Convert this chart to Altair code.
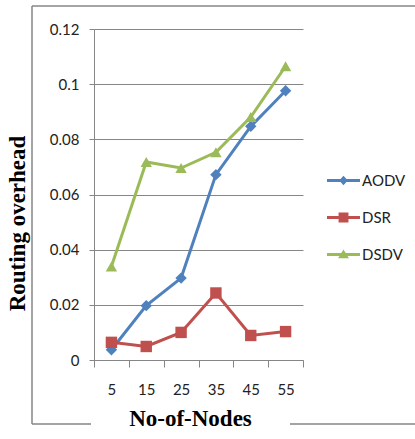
import altair as alt
import pandas as pd

# Routing overhead per protocol as the number of nodes grows
nodes = ["5", "15", "25", "35", "45", "55"]
protocols = ["AODV", "DSR", "DSDV"]
aodv = [0.0037, 0.0197, 0.0297, 0.0672, 0.0847, 0.0976]
dsr = [0.0064, 0.0049, 0.0100, 0.0243, 0.0089, 0.0103]
dsdv = [0.0339, 0.0718, 0.0696, 0.0753, 0.0881, 0.1065]
y_ticks = [0, 0.02, 0.04, 0.06, 0.08, 0.10, 0.12]

colors = ["#4F81BD", "#C0504D", "#9BBB59"]
marker_shapes = ["diamond", "square", "triangle-up"]
# legend glyphs: a short line segment with the series marker on it
bar = "M-1,-0.09L1,-0.09L1,0.09L-1,0.09Z "
legend_shapes = [
    bar + "M-0.26,0L0,-0.29L0.26,0L0,0.29Z",
    bar + "M-0.3,-0.3L0.3,-0.3L0.3,0.3L-0.3,0.3Z",
    bar + "M0,-0.3L0.33,0.22L-0.33,0.22Z",
]

rows = []
for name, vals in zip(protocols, [aodv, dsr, dsdv]):
    for n, v in zip(nodes, vals):
        rows.append({"nodes": n, "overhead": v, "protocol": name})
df = pd.DataFrame(rows)

axis_font = "Lato"
title_font = "Liberation Serif"
gray = "#868686"

x_enc = alt.X(
    "nodes:N",
    sort=nodes,
    scale=alt.Scale(paddingInner=0, paddingOuter=0),
    axis=alt.Axis(
        title="No-of-Nodes",
        labelAngle=0,
        tickBand="extent",
        tickSize=7,
        labelPadding=15,
        titlePadding=10,
        titleX=96,
        titleAlign="center",
        grid=False,
    ),
)
y_enc = alt.Y(
    "overhead:Q",
    scale=alt.Scale(domain=[0, 0.12], nice=False),
    axis=alt.Axis(
        title="Routing overhead",
        values=y_ticks,
        format=".2~f",
        tickSize=5,
        labelPadding=10,
        titleX=-77,
        titleY=194,
        titleAlign="center",
        titleBaseline="middle",
    ),
)
color_scale = alt.Scale(domain=protocols, range=colors)

lines = alt.Chart(df).mark_line(strokeWidth=3).encode(
    x=x_enc, y=y_enc,
    color=alt.Color("protocol:N", scale=color_scale, legend=None),
)

points = alt.Chart(df).mark_point(filled=True, opacity=1).encode(
    x=x_enc, y=y_enc,
    color=alt.Color("protocol:N", scale=color_scale, legend=None),
    shape=alt.Shape("protocol:N", scale=alt.Scale(domain=protocols, range=marker_shapes), legend=None),
    size=alt.value(130),
)

legend_layer = alt.Chart(df).mark_point(filled=True, opacity=0).encode(
    x=x_enc, y=y_enc,
    color=alt.Color("protocol:N", scale=color_scale, legend=alt.Legend(title=None, symbolOpacity=1)),
    shape=alt.Shape("protocol:N", scale=alt.Scale(domain=protocols, range=legend_shapes),
                    legend=alt.Legend(title=None, symbolOpacity=1)),
)

# outer frame around the figure, open at the x-axis title
frame_df = pd.DataFrame({"k": [0]})
frame_left = alt.Chart(frame_df).mark_rule(color=gray, strokeWidth=1.5).encode(
    x=alt.value(-62), y=alt.value(-23), y2=alt.value(395))
frame_top = alt.Chart(frame_df).mark_rule(color=gray, strokeWidth=1.5).encode(
    x=alt.value(-62), x2=alt.value(330), y=alt.value(-23))
frame_bot1 = alt.Chart(frame_df).mark_rule(color=gray, strokeWidth=1.5).encode(
    x=alt.value(-62), x2=alt.value(-3), y=alt.value(395))
frame_bot2 = alt.Chart(frame_df).mark_rule(color=gray, strokeWidth=1.5).encode(
    x=alt.value(196), x2=alt.value(330), y=alt.value(395))

chart = (
    alt.layer(frame_left, frame_top, frame_bot1, frame_bot2, lines, points, legend_layer)
    .resolve_scale(color="independent", shape="independent")
    .properties(
        width=209,
        height=331,
        autosize=alt.AutoSizeParams(type="none"),
        padding={"left": 94, "top": 29, "right": 112, "bottom": 79},
        background="white",
    )
    .configure_view(stroke=None)
    .configure_axis(
        domainColor=gray,
        tickColor=gray,
        gridColor=gray,
        labelFont=axis_font,
        labelFontSize=15,
        labelColor="#222222",
        titleFont=title_font,
        titleFontSize=23,
        titleFontWeight="bold",
        titleColor="#000000",
    )
    .configure_legend(
        orient="none",
        legendX=233,
        legendY=135,
        padding=0,
        offset=0,
        symbolSize=1089,
        symbolStrokeWidth=0,
        labelFont=axis_font,
        labelFontSize=15,
        labelColor="#222222",
        labelOffset=2,
        rowPadding=12,
    )
)

chart.save("out.html", embed_options={"renderer": "svg", "actions": False})
